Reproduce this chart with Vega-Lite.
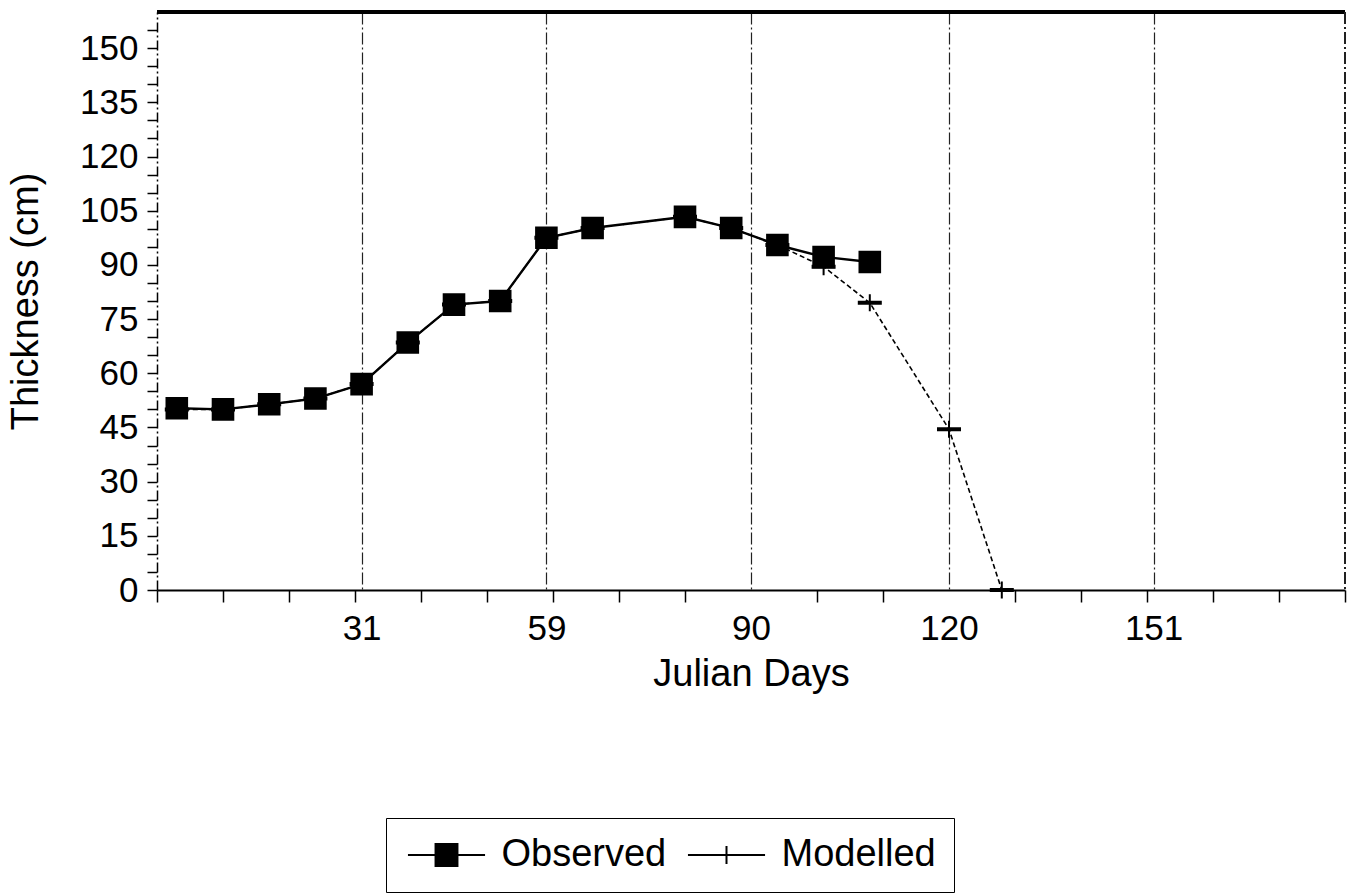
{
  "$schema": "https://vega.github.io/schema/vega-lite/v6.json",
  "autosize": {"type": "none"},
  "width": 1188,
  "height": 578,
  "padding": {"left": 157, "top": 12, "right": 8, "bottom": 306},
  "background": "white",
  "config": {
    "view": {"stroke": null},
    "font": "Liberation Sans",
    "axis": {"labelFont": "Liberation Sans", "titleFont": "Liberation Sans", "labelColor": "black", "titleColor": "black", "titleFontWeight": "normal"}
  },
  "data": {
    "values": [
      {"day": 3, "thickness": 50, "series": "Modelled"},
      {"day": 10, "thickness": 50, "series": "Modelled"},
      {"day": 17, "thickness": 51.4, "series": "Modelled"},
      {"day": 24, "thickness": 53, "series": "Modelled"},
      {"day": 31, "thickness": 57, "series": "Modelled"},
      {"day": 38, "thickness": 68.5, "series": "Modelled"},
      {"day": 45, "thickness": 79, "series": "Modelled"},
      {"day": 52, "thickness": 80, "series": "Modelled"},
      {"day": 59, "thickness": 97.5, "series": "Modelled"},
      {"day": 66, "thickness": 100.2, "series": "Modelled"},
      {"day": 80, "thickness": 103.3, "series": "Modelled"},
      {"day": 87, "thickness": 100.2, "series": "Modelled"},
      {"day": 94, "thickness": 95.5, "series": "Modelled"},
      {"day": 101, "thickness": 89.5, "series": "Modelled"},
      {"day": 108, "thickness": 79.5, "series": "Modelled"},
      {"day": 120, "thickness": 44.5, "series": "Modelled"},
      {"day": 128, "thickness": 0, "series": "Modelled"},
      {"day": 3, "thickness": 50.3, "series": "Observed"},
      {"day": 10, "thickness": 50, "series": "Observed"},
      {"day": 17, "thickness": 51.4, "series": "Observed"},
      {"day": 24, "thickness": 53, "series": "Observed"},
      {"day": 31, "thickness": 57, "series": "Observed"},
      {"day": 38, "thickness": 68.5, "series": "Observed"},
      {"day": 45, "thickness": 79, "series": "Observed"},
      {"day": 52, "thickness": 80, "series": "Observed"},
      {"day": 59, "thickness": 97.5, "series": "Observed"},
      {"day": 66, "thickness": 100.2, "series": "Observed"},
      {"day": 80, "thickness": 103.3, "series": "Observed"},
      {"day": 87, "thickness": 100.2, "series": "Observed"},
      {"day": 94, "thickness": 95.5, "series": "Observed"},
      {"day": 101, "thickness": 92.2, "series": "Observed"},
      {"day": 108, "thickness": 90.8, "series": "Observed"}
    ]
  },
  "layer": [
    {
      "transform": [{"filter": "datum.series === 'Modelled'"}],
      "mark": {"type": "line", "color": "black", "strokeWidth": 1.6, "strokeDash": [5, 3]},
      "encoding": {
        "x": {
          "field": "day", "type": "quantitative", "title": "Julian Days",
          "scale": {"domain": [0, 180], "nice": false, "zero": false},
          "axis": {
            "values": [0, 10, 20, 30, 40, 50, 60, 70, 80, 90, 100, 110, 120, 130, 140, 150, 160, 170, 180, 31, 59, 90, 120, 151],
            "labelExpr": "indexof([31,59,90,120,151], datum.value) >= 0 ? datum.label : ''",
            "labelFlush": false, "labelOverlap": false, "labelFontSize": 35, "labelPadding": 9,
            "titleFontSize": 38, "titlePadding": 9,
            "tickSize": 12, "tickColor": "black", "tickWidth": 1.5,
            "tickOpacity": {"condition": {"test": "indexof([31,59,90,120,151], datum.value) >= 0", "value": 0}, "value": 1},
            "grid": true, "gridColor": "#222222", "gridWidth": 1.2, "gridDash": [12, 3, 2, 3],
            "gridOpacity": {"condition": {"test": "indexof([31,59,90,120,151], datum.value) >= 0", "value": 1}, "value": 0},
            "domainColor": "black", "domainWidth": 2.2
          }
        },
        "y": {
          "field": "thickness", "type": "quantitative", "title": "Thickness (cm)",
          "scale": {"domain": [0, 160], "nice": false},
          "axis": {
            "values": [0, 5, 10, 15, 20, 25, 30, 35, 40, 45, 50, 55, 60, 65, 70, 75, 80, 85, 90, 95, 100, 105, 110, 115, 120, 125, 130, 135, 140, 145, 150, 155],
            "labelExpr": "datum.value % 15 === 0 ? datum.label : ''",
            "labelOverlap": false, "labelFlush": false, "labelFontSize": 35, "labelPadding": 9,
            "titleFontSize": 38, "titlePadding": 34,
            "tickSize": 10, "tickColor": "black", "tickWidth": 1.5,
            "grid": false, "domainColor": "black", "domainWidth": 1.5, "domainDash": [10, 3, 2, 3]
          }
        }
      }
    },
    {
      "transform": [{"filter": "datum.series === 'Observed'"}],
      "mark": {"type": "line", "strokeWidth": 2.4},
      "encoding": {
        "x": {
          "field": "day", "type": "quantitative", "title": "Julian Days",
          "scale": {"domain": [0, 180], "nice": false, "zero": false},
          "axis": {
            "values": [0, 10, 20, 30, 40, 50, 60, 70, 80, 90, 100, 110, 120, 130, 140, 150, 160, 170, 180, 31, 59, 90, 120, 151],
            "labelExpr": "indexof([31,59,90,120,151], datum.value) >= 0 ? datum.label : ''",
            "labelFlush": false, "labelOverlap": false, "labelFontSize": 35, "labelPadding": 9,
            "titleFontSize": 38, "titlePadding": 9,
            "tickSize": 12, "tickColor": "black", "tickWidth": 1.5,
            "tickOpacity": {"condition": {"test": "indexof([31,59,90,120,151], datum.value) >= 0", "value": 0}, "value": 1},
            "grid": true, "gridColor": "#222222", "gridWidth": 1.2, "gridDash": [12, 3, 2, 3],
            "gridOpacity": {"condition": {"test": "indexof([31,59,90,120,151], datum.value) >= 0", "value": 1}, "value": 0},
            "domainColor": "black", "domainWidth": 2.2
          }
        },
        "y": {
          "field": "thickness", "type": "quantitative", "title": "Thickness (cm)",
          "scale": {"domain": [0, 160], "nice": false},
          "axis": {
            "values": [0, 5, 10, 15, 20, 25, 30, 35, 40, 45, 50, 55, 60, 65, 70, 75, 80, 85, 90, 95, 100, 105, 110, 115, 120, 125, 130, 135, 140, 145, 150, 155],
            "labelExpr": "datum.value % 15 === 0 ? datum.label : ''",
            "labelOverlap": false, "labelFlush": false, "labelFontSize": 35, "labelPadding": 9,
            "titleFontSize": 38, "titlePadding": 34,
            "tickSize": 10, "tickColor": "black", "tickWidth": 1.5,
            "grid": false, "domainColor": "black", "domainWidth": 1.5, "domainDash": [10, 3, 2, 3]
          }
        },
        "color": {
          "field": "series", "type": "nominal",
          "scale": {"domain": ["Observed", "Modelled"], "range": ["black", "black"]},
          "legend": {
            "title": null,
            "orient": "none",
            "legendX": 229,
            "legendY": 806,
            "direction": "horizontal",
            "columns": 2,
            "columnPadding": 16,
            "padding": 18,
            "symbolSize": 900,
            "symbolType": {"expr": "datum.value === 'Observed' ? 'M-2.57,0H2.57M-0.73,-0.73H0.73V0.73H-0.73Z' : 'M-2.57,0H2.57M0,-0.6V0.6'"},
            "symbolFillColor": "black",
            "symbolStrokeColor": "black",
            "symbolStrokeWidth": 2,
            "symbolOpacity": 1,
            "symbolOffset": 23.5,
            "labelOffset": 36,
            "labelFont": "Liberation Sans",
            "labelFontSize": 38,
            "labelColor": "black",
            "labelLimit": 400,
            "strokeColor": "black",
            "fillColor": "white",
            "encode": {
              "legend": {"strokeWidth": {"value": 2}}
            }
          }
        }
      }
    },
    {
      "transform": [{"filter": "datum.series === 'Modelled'"}],
      "mark": {"type": "point", "shape": "M-1.1,-0.1H1.1V0.1H-1.1ZM0,-0.85V0.85", "filled": true, "fill": "black", "stroke": "black", "strokeWidth": 2, "opacity": 1, "size": 400},
      "encoding": {
        "x": {
          "field": "day", "type": "quantitative", "title": "Julian Days",
          "scale": {"domain": [0, 180], "nice": false, "zero": false},
          "axis": {
            "values": [0, 10, 20, 30, 40, 50, 60, 70, 80, 90, 100, 110, 120, 130, 140, 150, 160, 170, 180, 31, 59, 90, 120, 151],
            "labelExpr": "indexof([31,59,90,120,151], datum.value) >= 0 ? datum.label : ''",
            "labelFlush": false, "labelOverlap": false, "labelFontSize": 35, "labelPadding": 9,
            "titleFontSize": 38, "titlePadding": 9,
            "tickSize": 12, "tickColor": "black", "tickWidth": 1.5,
            "tickOpacity": {"condition": {"test": "indexof([31,59,90,120,151], datum.value) >= 0", "value": 0}, "value": 1},
            "grid": true, "gridColor": "#222222", "gridWidth": 1.2, "gridDash": [12, 3, 2, 3],
            "gridOpacity": {"condition": {"test": "indexof([31,59,90,120,151], datum.value) >= 0", "value": 1}, "value": 0},
            "domainColor": "black", "domainWidth": 2.2
          }
        },
        "y": {
          "field": "thickness", "type": "quantitative", "title": "Thickness (cm)",
          "scale": {"domain": [0, 160], "nice": false},
          "axis": {
            "values": [0, 5, 10, 15, 20, 25, 30, 35, 40, 45, 50, 55, 60, 65, 70, 75, 80, 85, 90, 95, 100, 105, 110, 115, 120, 125, 130, 135, 140, 145, 150, 155],
            "labelExpr": "datum.value % 15 === 0 ? datum.label : ''",
            "labelOverlap": false, "labelFlush": false, "labelFontSize": 35, "labelPadding": 9,
            "titleFontSize": 38, "titlePadding": 34,
            "tickSize": 10, "tickColor": "black", "tickWidth": 1.5,
            "grid": false, "domainColor": "black", "domainWidth": 1.5, "domainDash": [10, 3, 2, 3]
          }
        }
      }
    },
    {
      "transform": [{"filter": "datum.series === 'Observed'"}],
      "mark": {"type": "square", "filled": true, "color": "black", "stroke": "black", "strokeWidth": 2.6, "opacity": 1, "size": 400},
      "encoding": {
        "x": {
          "field": "day", "type": "quantitative", "title": "Julian Days",
          "scale": {"domain": [0, 180], "nice": false, "zero": false},
          "axis": {
            "values": [0, 10, 20, 30, 40, 50, 60, 70, 80, 90, 100, 110, 120, 130, 140, 150, 160, 170, 180, 31, 59, 90, 120, 151],
            "labelExpr": "indexof([31,59,90,120,151], datum.value) >= 0 ? datum.label : ''",
            "labelFlush": false, "labelOverlap": false, "labelFontSize": 35, "labelPadding": 9,
            "titleFontSize": 38, "titlePadding": 9,
            "tickSize": 12, "tickColor": "black", "tickWidth": 1.5,
            "tickOpacity": {"condition": {"test": "indexof([31,59,90,120,151], datum.value) >= 0", "value": 0}, "value": 1},
            "grid": true, "gridColor": "#222222", "gridWidth": 1.2, "gridDash": [12, 3, 2, 3],
            "gridOpacity": {"condition": {"test": "indexof([31,59,90,120,151], datum.value) >= 0", "value": 1}, "value": 0},
            "domainColor": "black", "domainWidth": 2.2
          }
        },
        "y": {
          "field": "thickness", "type": "quantitative", "title": "Thickness (cm)",
          "scale": {"domain": [0, 160], "nice": false},
          "axis": {
            "values": [0, 5, 10, 15, 20, 25, 30, 35, 40, 45, 50, 55, 60, 65, 70, 75, 80, 85, 90, 95, 100, 105, 110, 115, 120, 125, 130, 135, 140, 145, 150, 155],
            "labelExpr": "datum.value % 15 === 0 ? datum.label : ''",
            "labelOverlap": false, "labelFlush": false, "labelFontSize": 35, "labelPadding": 9,
            "titleFontSize": 38, "titlePadding": 34,
            "tickSize": 10, "tickColor": "black", "tickWidth": 1.5,
            "grid": false, "domainColor": "black", "domainWidth": 1.5, "domainDash": [10, 3, 2, 3]
          }
        }
      }
    },
    {
      "mark": {"type": "rule", "color": "black", "strokeWidth": 3},
      "encoding": {
        "y": {
          "datum": 160, "type": "quantitative", "title": "Thickness (cm)",
          "scale": {"domain": [0, 160], "nice": false},
          "axis": {
            "values": [0, 5, 10, 15, 20, 25, 30, 35, 40, 45, 50, 55, 60, 65, 70, 75, 80, 85, 90, 95, 100, 105, 110, 115, 120, 125, 130, 135, 140, 145, 150, 155],
            "labelExpr": "datum.value % 15 === 0 ? datum.label : ''",
            "labelOverlap": false, "labelFlush": false, "labelFontSize": 35, "labelPadding": 9,
            "titleFontSize": 38, "titlePadding": 34,
            "tickSize": 10, "tickColor": "black", "tickWidth": 1.5,
            "grid": false, "domainColor": "black", "domainWidth": 1.5, "domainDash": [10, 3, 2, 3]
          }
        }
      }
    },
    {
      "mark": {"type": "rule", "color": "#222222", "strokeWidth": 1.3, "strokeDash": [12, 3, 2, 3]},
      "encoding": {
        "x": {
          "datum": 180, "type": "quantitative", "title": "Julian Days",
          "scale": {"domain": [0, 180], "nice": false, "zero": false},
          "axis": {
            "values": [0, 10, 20, 30, 40, 50, 60, 70, 80, 90, 100, 110, 120, 130, 140, 150, 160, 170, 180, 31, 59, 90, 120, 151],
            "labelExpr": "indexof([31,59,90,120,151], datum.value) >= 0 ? datum.label : ''",
            "labelFlush": false, "labelOverlap": false, "labelFontSize": 35, "labelPadding": 9,
            "titleFontSize": 38, "titlePadding": 9,
            "tickSize": 12, "tickColor": "black", "tickWidth": 1.5,
            "tickOpacity": {"condition": {"test": "indexof([31,59,90,120,151], datum.value) >= 0", "value": 0}, "value": 1},
            "grid": true, "gridColor": "#222222", "gridWidth": 1.2, "gridDash": [12, 3, 2, 3],
            "gridOpacity": {"condition": {"test": "indexof([31,59,90,120,151], datum.value) >= 0", "value": 1}, "value": 0},
            "domainColor": "black", "domainWidth": 2.2
          }
        }
      }
    }
  ]
}
